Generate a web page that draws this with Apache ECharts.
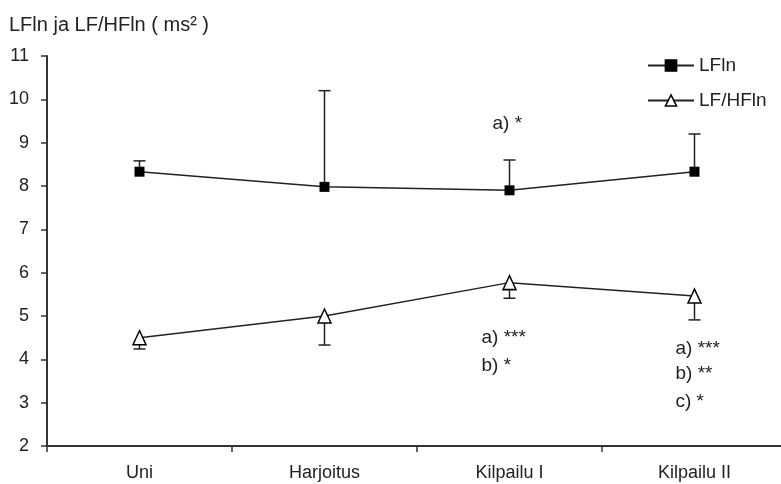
<!DOCTYPE html>
<html>
<head>
<meta charset="utf-8">
<script src="https://cdn.jsdelivr.net/npm/echarts@6/dist/echarts.min.js"></script>
<style>
  html, body { margin: 0; padding: 0; background: #fff; }
  #chart { width: 781px; height: 484px; }
</style>
</head>
<body>
<div id="chart"></div>
<script>
const categories = ['Uni', 'Harjoitus', 'Kilpailu I', 'Kilpailu II']
const lfln = [8.33, 7.98, 7.9, 8.33]
const lflnUpper = [8.58, 10.2, 8.6, 9.2]
const lfhf = [4.5, 5.0, 5.77, 5.46]
const lfhfLower = [4.24, 4.33, 5.41, 4.91]
const yMin = 2
const yMax = 11
const yStep = 1

// significance notes: category, value, text
const noteCats = ['Kilpailu I', 'Kilpailu I', 'Kilpailu I', 'Kilpailu II', 'Kilpailu II', 'Kilpailu II']
const noteValues = [9.43, 4.49, 3.85, 4.24, 3.66, 3.02]
const noteTexts = ['a) *', 'a) ***', 'b) *', 'a) ***', 'b) **', 'c) *']

const FONT = 'Liberation Sans, Arial, sans-serif'
const INK = '#222'

const chart = echarts.init(document.getElementById('chart'))

function errorBar(values, ends) {
  return values.map((v, i) => [i, v, ends[i]])
}

function renderErrorBar(params, api) {
  const base = api.coord([api.value(0), api.value(1)])
  const end = api.coord([api.value(0), api.value(2)])
  const half = 6
  return {
    type: 'group',
    children: [
      { type: 'line', shape: { x1: base[0], y1: base[1], x2: end[0], y2: end[1] }, style: { stroke: INK, lineWidth: 1.5 } },
      { type: 'line', shape: { x1: end[0] - half, y1: end[1], x2: end[0] + half, y2: end[1] }, style: { stroke: INK, lineWidth: 1.5 } }
    ]
  }
}

chart.setOption({
  backgroundColor: '#fff',
  animation: false,
  title: {
    text: 'LFln ja LF/HFln ( ms² )',
    left: 9,
    top: 15,
    padding: 0,
    textStyle: { fontFamily: FONT, fontSize: 20, fontWeight: 'normal', color: INK }
  },
  legend: {
    orient: 'vertical',
    left: 647,
    top: 55,
    padding: 0,
    itemWidth: 46,
    itemHeight: 14,
    itemGap: 14,
    itemStyle: { borderWidth: 1.5 },
    textStyle: { fontFamily: FONT, fontSize: 19, lineHeight: 21, color: INK, padding: [0, 0, 0, 0] },
    data: ['LFln', 'LF/HFln']
  },
  grid: { left: 47, top: 56, width: 740, height: 390, outerBoundsMode: 'none', containLabel: false },
  xAxis: {
    type: 'category',
    data: categories,
    boundaryGap: true,
    axisLine: { lineStyle: { color: '#333', width: 2 } },
    axisTick: { show: true, length: 6, inside: false, lineStyle: { color: '#333', width: 1.5 } },
    axisLabel: { fontFamily: FONT, fontSize: 18, color: INK, margin: 18 }
  },
  yAxis: {
    type: 'value',
    min: yMin,
    max: yMax,
    interval: yStep,
    splitLine: { show: false },
    axisLine: { show: true, lineStyle: { color: '#333', width: 2 } },
    axisTick: { show: true, length: 6, lineStyle: { color: '#333', width: 1.5 } },
    axisLabel: { fontFamily: FONT, fontSize: 18, color: INK, margin: 18 }
  },
  series: [
    {
      type: 'custom',
      name: 'lflnErr',
      renderItem: renderErrorBar,
      data: errorBar(lfln, lflnUpper),
      z: 1
    },
    {
      type: 'custom',
      name: 'lfhfErr',
      renderItem: renderErrorBar,
      data: errorBar(lfhf, lfhfLower),
      z: 1
    },
    {
      name: 'LFln',
      type: 'line',
      data: lfln,
      symbol: 'rect',
      symbolSize: 10,
      showAllSymbol: true,
      lineStyle: { color: INK, width: 1.5 },
      itemStyle: { color: '#000', borderColor: '#000', borderWidth: 0 },
      z: 3
    },
    {
      name: 'LF/HFln',
      type: 'line',
      data: lfhf,
      symbol: 'triangle',
      symbolSize: [13, 14],
      showAllSymbol: true,
      lineStyle: { color: INK, width: 1.5 },
      itemStyle: { color: '#fff', borderColor: '#000', borderWidth: 1.5 },
      z: 3
    },
    {
      type: 'scatter',
      name: 'notes',
      symbolSize: 0,
      silent: true,
      itemStyle: { opacity: 1 },
      data: noteCats.map((c, i) => ({ value: [c, noteValues[i]], note: noteTexts[i] })),
      label: {
        show: true,
        position: 'inside',
        align: 'left',
        formatter: p => p.data.note,
        fontFamily: FONT,
        fontSize: 19,
        color: INK,
        opacity: 1
      },
      labelLayout: function (p) {
        const i = p.dataIndex
        const shift = i === 0 ? -17 : (noteCats[i] === 'Kilpailu I' ? -28 : -19)
        return { dx: shift }
      },
      z: 4
    }
  ]
})
</script>
</body>
</html>
